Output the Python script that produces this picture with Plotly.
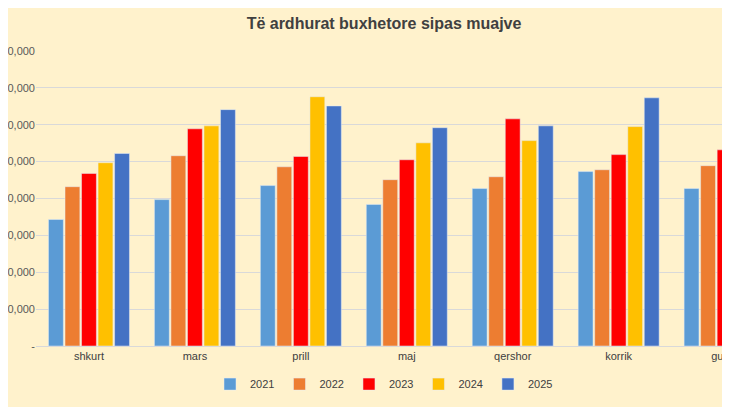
import plotly.graph_objects as go

muajt = ['shkurt', 'mars', 'prill', 'maj', 'qershor', 'korrik', 'gusht']
v2021 = [34300, 39700, 43500, 38400, 42700, 47300, 42700]
v2022 = [43200, 51600, 48600, 45100, 45900, 47800, 48900]
v2023 = [46800, 58900, 51400, 50500, 61600, 51900, 53200]
v2024 = [49700, 59700, 67600, 55100, 55700, 59500, None]
v2025 = [52200, 64100, 65100, 59200, 59700, 67300, None]

vitet = ['2021', '2022', '2023', '2024', '2025']
ngjyrat = ['#5B9BD5', '#ED7D31', '#FF0000', '#FFC000', '#4472C4']
seri = [v2021, v2022, v2023, v2024, v2025]

tick_vals = [0, 10000, 20000, 30000, 40000, 50000, 60000, 70000, 80000]
tick_text = ['-', '10,000', '20,000', '30,000', '40,000', '50,000', '60,000', '70,000', '80,000']

fig = go.Figure()
for emri, vlerat, ngj in zip(vitet, seri, ngjyrat):
    fig.add_trace(go.Bar(x=muajt, y=vlerat, name=emri, marker_color=ngj))

fig.update_layout(
    width=730, height=407,
    paper_bgcolor='#FFF2CC', plot_bgcolor='#FFF2CC',
    margin=dict(l=28, r=0, t=43, b=69),
    barmode='group', bargap=0.22, bargroupgap=0.1,
    title=dict(text='<b>Të ardhurat buxhetore sipas muajve</b>', x=0.5, xref='paper',
               y=0.975, yanchor='top',
               font=dict(family='Liberation Sans', size=16, color='#404040')),
    font=dict(family='Liberation Sans', size=11, color='#404040'),
    legend=dict(orientation='h', x=0.5, xanchor='center', y=-0.08, yanchor='top',
                font=dict(size=11, color='#404040')),
    showlegend=True,
)
fig.update_xaxes(range=[-0.5, 6.07], showgrid=False, showline=True, linecolor='#D9D9D9',
                 ticks='', tickfont=dict(size=11, color='#404040'))
fig.update_yaxes(range=[0, 80000], tickvals=tick_vals, ticktext=tick_text, automargin=False,
                 gridcolor='#D9D9D9', zeroline=False, tickfont=dict(size=11, color='#595959'))

fig.write_html("out.html")
